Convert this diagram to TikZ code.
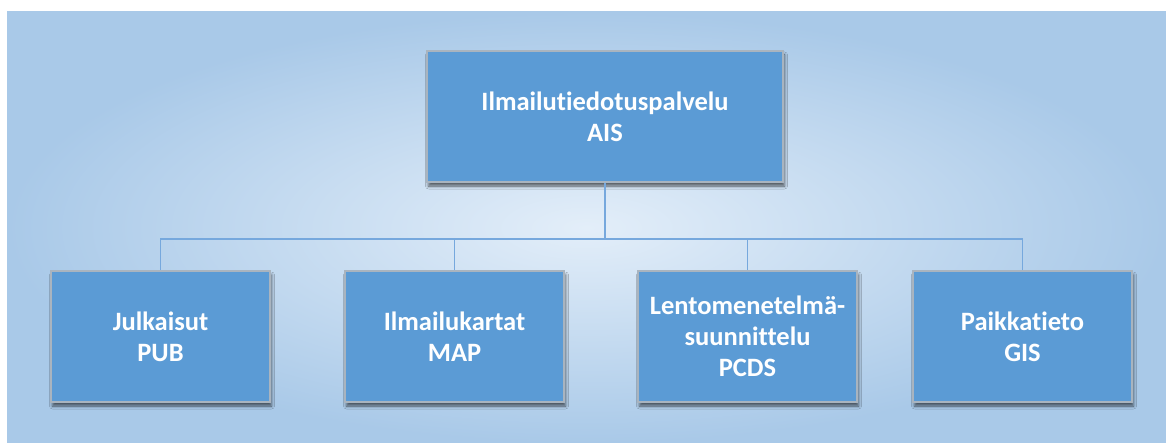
\documentclass[tikz,border=0pt]{standalone}
\usepackage{fontspec}
\setmainfont{Carlito}[Ligatures=NoCommon]
\usetikzlibrary{shadows.blur}

\definecolor{boxblue}{HTML}{5B9BD5}
\definecolor{boxedge}{HTML}{A9B4BF}
\definecolor{linkblue}{HTML}{76A8DD}
\definecolor{bgin}{HTML}{E3EEF9}
\definecolor{bgout}{HTML}{A9C9E8}

\tikzset{
  unitbox/.style={
    rectangle, fill=boxblue, draw=boxedge, line width=1.3pt,
    minimum width=219pt, minimum height=131pt, inner sep=0pt,
    text=white, align=center,
    font=\fontsize{26.5}{31}\selectfont\bfseries,
    blur shadow={shadow xshift=1.5pt, shadow yshift=-4pt,
                 shadow blur radius=3pt, shadow opacity=60}
  },
  link/.style={draw=linkblue, line width=1.9pt}
}

\begin{document}
\begin{tikzpicture}[x=1pt,y=-1pt]
  % page and soft glowing backdrop
  \fill[white] (0,0) rectangle (1166,443);
  \shade[inner color=bgin, outer color=bgout] (7,12) rectangle (1166,443);
  \useasboundingbox (0,0) rectangle (1166,443);

  % service units
  \node[unitbox, minimum width=356pt] (ais) at (605,116.5)
       {Ilmailutiedotuspalvelu\\AIS};
  \node[unitbox] (pub)  at (160.5,336.5) {Julkaisut\\PUB};
  \node[unitbox] (map)  at (454.5,336.5) {Ilmailukartat\\MAP};
  \node[unitbox] (pcds) at (747.5,336.5) {Lentomenetelmä-\\suunnittelu\\PCDS};
  \node[unitbox] (gis)  at (1022.5,336.5) {Paikkatieto\\GIS};

  % organisation tree connectors
  \coordinate (bus) at (605,239);
  \draw[link] (ais.south) -- (bus);
  \draw[link] (bus) -| (pub.north);
  \draw[link] (bus) -| (map.north);
  \draw[link] (bus) -| (pcds.north);
  \draw[link] (bus) -| (gis.north);
\end{tikzpicture}
\end{document}
